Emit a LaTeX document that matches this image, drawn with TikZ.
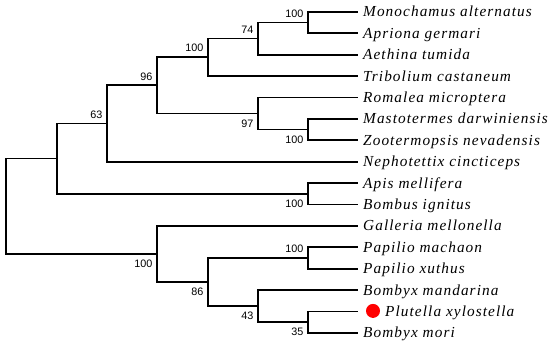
\documentclass[tikz,border=0pt]{standalone}
\usepackage{fontspec}
\setmainfont{Liberation Serif}
\newfontfamily\numfont{Liberation Sans}
\newfontfamily\spfont[LetterSpace=7]{Liberation Serif Italic}
\begin{document}
\begin{tikzpicture}[x=1pt,y=-1pt,
  branch/.style={line width=1.8pt, line cap=rect},
  species/.style={anchor=base west, inner sep=0pt, font=\spfont\fontsize{15.3}{15.3}\selectfont},
  bsup/.style={anchor=south east, inner sep=0pt, xshift=-4.5pt, yshift=5pt, font=\numfont\fontsize{10.8}{10.8}\selectfont},
  bsdown/.style={anchor=north east, inner sep=0pt, xshift=-4.5pt, yshift=-6pt, font=\numfont\fontsize{10.8}{10.8}\selectfont}]
\useasboundingbox (0,0) rectangle (550,343);
% leaf tips
\coordinate (l0) at (357,11.8);
\coordinate (l1) at (357,33.2);
\coordinate (l2) at (357,54.6);
\coordinate (l3) at (357,76.0);
\coordinate (l4) at (357,97.4);
\coordinate (l5) at (357,118.8);
\coordinate (l6) at (357,140.2);
\coordinate (l7) at (357,161.6);
\coordinate (l8) at (357,183.0);
\coordinate (l9) at (357,204.4);
\coordinate (l10) at (357,225.8);
\coordinate (l11) at (357,247.2);
\coordinate (l12) at (357,268.6);
\coordinate (l13) at (357,290.0);
\coordinate (l14) at (357,311.4);
\coordinate (l15) at (357,332.8);
% internal nodes
\coordinate (n1) at (308,22.5);
\coordinate (n2) at (258,38.55);
\coordinate (n3) at (208,57.28);
\coordinate (n4) at (308,129.5);
\coordinate (n5) at (258,113.45);
\coordinate (n6) at (157,85.36);
\coordinate (n7) at (107,123.48);
\coordinate (n8) at (308,193.7);
\coordinate (n9) at (57,158.59);
\coordinate (n10) at (308,257.9);
\coordinate (n11) at (308,322.1);
\coordinate (n12) at (258,306.05);
\coordinate (n13) at (208,281.98);
\coordinate (n14) at (157,253.89);
\coordinate (root) at (6,206.24);
% branches
\draw[branch] (root) |- (n9);
\draw[branch] (root) |- (n14);
\draw[branch] (n9) |- (n7);
\draw[branch] (n9) |- (n8);
\draw[branch] (n7) |- (n6);
\draw[branch] (n7) |- (l7);
\draw[branch] (n6) |- (n3);
\draw[branch] (n6) |- (n5);
\draw[branch] (n3) |- (n2);
\draw[branch] (n3) |- (l3);
\draw[branch] (n2) |- (n1);
\draw[branch] (n2) |- (l2);
\draw[branch] (n1) |- (l0);
\draw[branch] (n1) |- (l1);
\draw[branch] (n5) |- (l4);
\draw[branch] (n5) |- (n4);
\draw[branch] (n4) |- (l5);
\draw[branch] (n4) |- (l6);
\draw[branch] (n8) |- (l8);
\draw[branch] (n8) |- (l9);
\draw[branch] (n14) |- (l10);
\draw[branch] (n14) |- (n13);
\draw[branch] (n13) |- (n10);
\draw[branch] (n13) |- (n12);
\draw[branch] (n10) |- (l11);
\draw[branch] (n10) |- (l12);
\draw[branch] (n12) |- (l13);
\draw[branch] (n12) |- (n11);
\draw[branch] (n11) |- (l14);
\draw[branch] (n11) |- (l15);
% species names
\node[species] (s0) at ([xshift=6pt,yshift=-5pt]l0) {Monochamus alternatus};
\node[species] (s1) at ([xshift=6pt,yshift=-5pt]l1) {Apriona germari};
\node[species] (s2) at ([xshift=6pt,yshift=-5pt]l2) {Aethina tumida};
\node[species] (s3) at ([xshift=6pt,yshift=-5pt]l3) {Tribolium castaneum};
\node[species] (s4) at ([xshift=6pt,yshift=-5pt]l4) {Romalea microptera};
\node[species] (s5) at ([xshift=6pt,yshift=-5pt]l5) {Mastotermes darwiniensis};
\node[species] (s6) at ([xshift=6pt,yshift=-5pt]l6) {Zootermopsis nevadensis};
\node[species] (s7) at ([xshift=6pt,yshift=-5pt]l7) {Nephotettix cincticeps};
\node[species] (s8) at ([xshift=6pt,yshift=-5pt]l8) {Apis mellifera};
\node[species] (s9) at ([xshift=6pt,yshift=-5pt]l9) {Bombus ignitus};
\node[species] (s10) at ([xshift=6pt,yshift=-5pt]l10) {Galleria mellonella};
\node[species] (s11) at ([xshift=6pt,yshift=-5pt]l11) {Papilio machaon};
\node[species] (s12) at ([xshift=6pt,yshift=-5pt]l12) {Papilio xuthus};
\node[species] (s13) at ([xshift=6pt,yshift=-5pt]l13) {Bombyx mandarina};
\node[species] (s14) at ([xshift=28pt,yshift=-5pt]l14) {Plutella xylostella};
\node[species] (s15) at ([xshift=6pt,yshift=-5pt]l15) {Bombyx mori};
\fill[red] ([xshift=16pt,yshift=0.5pt]l14) circle (7pt);
% bootstrap values
\node[bsup] (b1) at (n1) {100};
\node[bsup] (b2) at (n2) {74};
\node[bsup] (b3) at (n3) {100};
\node[bsup] (b6) at (n6) {96};
\node[bsup] (b7) at (n7) {63};
\node[bsdown] (b5) at (n5) {97};
\node[bsdown] (b4) at (n4) {100};
\node[bsdown] (b8) at (n8) {100};
\node[bsdown] (b14) at (n14) {100};
\node[bsup] (b10) at (n10) {100};
\node[bsdown] (b13) at (n13) {86};
\node[bsdown] (b12) at (n12) {43};
\node[bsdown] (b11) at (n11) {35};
\end{tikzpicture}
\end{document}
